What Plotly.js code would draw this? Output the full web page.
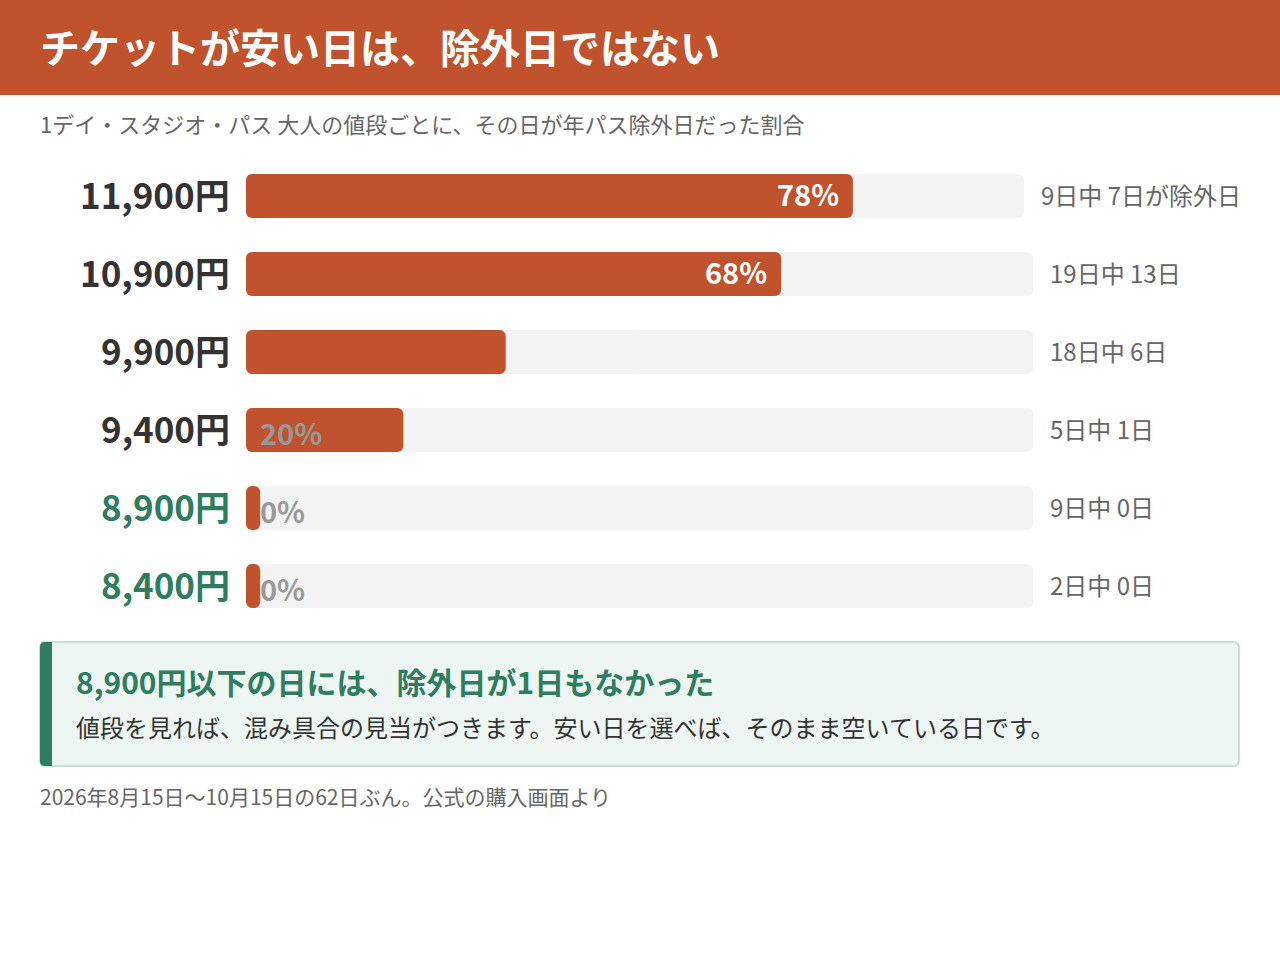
<!DOCTYPE html>
<html>
<head>
<meta charset="utf-8">
<script src="https://cdn.plot.ly/plotly-3.0.1.min.js"></script>
<style>
html,body{margin:0;padding:0;background:#fff;}
#chart{width:1280px;height:960px;}
</style>
</head>
<body>
<div id="chart"></div>
<script>
// ---- data ----
const prices = ['11,900円', '10,900円', '9,900円', '9,400円', '8,900円', '8,400円'];
const sharePct = [78, 68, 33, 20, 0, 0];
const pctLabels = ['78%', '68%', '', '20%', '0%', '0%'];
const dayLabels = ['9日中 7日が除外日', '19日中 13日', '18日中 6日', '5日中 1日', '9日中 0日', '2日中 0日'];
const priceColors = ['#333333', '#333333', '#333333', '#333333', '#2E7D5E', '#2E7D5E'];

// ---- styling ----
const W = 1280, H = 960;
const ORANGE = '#C0532E', TRACK = '#F3F3F3', GREEN = '#2E7D5E';
const FONT = '"Noto Sans CJK JP", "Noto Sans", sans-serif';
const MIN_PCT = 1.8;           // minimal visible width of a fill
const YS = 3;                  // small vertical correction for CJK text boxes
const px = x => x / W;
const py = y => 1 - y / H;

function rrPath(x0, y0, x1, y1, rl, rr) {
  const P = (x, y) => px(x) + ',' + py(y);
  return 'M' + P(x0 + rl, y0) + ' L' + P(x1 - rr, y0) +
    ' Q' + P(x1, y0) + ' ' + P(x1, y0 + rr) +
    ' L' + P(x1, y1 - rr) + ' Q' + P(x1, y1) + ' ' + P(x1 - rr, y1) +
    ' L' + P(x0 + rl, y1) + ' Q' + P(x0, y1) + ' ' + P(x0, y1 - rl) +
    ' L' + P(x0, y0 + rl) + ' Q' + P(x0, y0) + ' ' + P(x0 + rl, y0) + ' Z';
}

// rows: first row uses a slightly shorter track (x2), others use x
const groups = [
  {axis: 'x2', idx: [0]},
  {axis: 'x', idx: [1, 2, 3, 4, 5]}
];
const BW = 44 / 78;
const traces = [];
groups.forEach(g => {
  const ys = g.idx.map(i => prices[i]);
  const common = {type: 'bar', orientation: 'h', xaxis: g.axis, yaxis: 'y', width: BW,
    hoverinfo: 'skip', showlegend: false};
  traces.push(Object.assign({}, common, {y: ys, x: ys.map(() => -50.5), base: ys.map(() => 50.5),
    marker: {color: TRACK, cornerradius: 6, line: {width: 0}}}));
  traces.push(Object.assign({}, common, {y: ys, x: ys.map(() => 50.5), base: ys.map(() => 49.5),
    marker: {color: TRACK, cornerradius: 6, line: {width: 0}}}));
  const v = g.idx.map(i => Math.max(sharePct[i], MIN_PCT));
  traces.push(Object.assign({}, common, {y: ys, x: v.map(a => -a), base: v,
    marker: {color: ORANGE, cornerradius: 6, line: {width: 0}}}));
});

const annotations = [];
function note(o) { annotations.push(Object.assign({showarrow: false, xanchor: 'left', yanchor: 'middle'}, o)); }

note({xref: 'paper', yref: 'paper', x: px(38), y: py(48), yshift: 2,
  text: 'チケットが安い日は、除外日ではない',
  font: {family: FONT, size: 40, color: '#ffffff', weight: 700}});
note({xref: 'paper', yref: 'paper', x: px(38), y: py(126), yshift: YS,
  text: '1デイ・スタジオ・パス 大人の値段ごとに、その日が年パス除外日だった割合',
  font: {family: FONT, size: 22, color: '#666666'}});

prices.forEach((p, i) => {
  const ax = i === 0 ? 'x2' : 'x';
  const trackEnd = i === 0 ? 1024 : 1033;
  note({xref: 'paper', yref: 'y', x: px(232), y: p, xanchor: 'right', yshift: YS,
    text: p, font: {family: FONT, size: 35, color: priceColors[i], weight: 700}});
  note({xref: 'paper', yref: 'y', x: px(trackEnd + 15), y: p, yshift: 2,
    text: dayLabels[i], font: {family: FONT, size: 24, color: '#666666'}});
  if (pctLabels[i]) {
    if (sharePct[i] >= 50) {
      note({xref: ax, yref: 'y', x: sharePct[i], y: p, xanchor: 'right', xshift: -12, yshift: YS,
        text: pctLabels[i], font: {family: FONT, size: 29, color: '#ffffff', weight: 700}});
    } else {
      note({xref: ax, yref: 'y', x: MIN_PCT, y: p, xshift: -2, yshift: -2,
        text: pctLabels[i], font: {family: FONT, size: 29, color: '#999999', weight: 700}});
    }
  }
});

note({xref: 'paper', yref: 'paper', x: px(74), y: py(684), yshift: YS,
  text: '8,900円以下の日には、除外日が1日もなかった',
  font: {family: FONT, size: 30, color: GREEN, weight: 700}});
note({xref: 'paper', yref: 'paper', x: px(74), y: py(729), yshift: YS,
  text: '値段を見れば、混み具合の見当がつきます。安い日を選べば、そのまま空いている日です。',
  font: {family: FONT, size: 24, color: '#333333'}});
note({xref: 'paper', yref: 'paper', x: px(38), y: py(798), yshift: 2,
  text: '2026年8月15日〜10月15日の62日ぶん。公式の購入画面より',
  font: {family: FONT, size: 21, color: '#666666'}});

const shapes = [
  {type: 'rect', xref: 'paper', yref: 'paper', x0: 0, x1: 1, y0: py(95), y1: 1,
    fillcolor: ORANGE, line: {width: 0}, layer: 'below'},
  {type: 'path', xref: 'paper', yref: 'paper', path: rrPath(40, 642, 1239, 766, 6, 6),
    fillcolor: '#EEF6F3', line: {color: '#C6E0D6', width: 2}, layer: 'below'},
  {type: 'path', xref: 'paper', yref: 'paper', path: rrPath(40, 642, 52, 766, 5, 0),
    fillcolor: GREEN, line: {width: 0}, layer: 'below'}
];

const layout = {
  width: W, height: H,
  margin: {l: 0, r: 0, t: 0, b: 0, pad: 0},
  paper_bgcolor: '#ffffff', plot_bgcolor: 'rgba(0,0,0,0)',
  barmode: 'overlay',
  showlegend: false,
  xaxis: {domain: [px(246), px(1033)], range: [0, 100], visible: false, fixedrange: true, anchor: 'y'},
  xaxis2: {domain: [px(246), px(1024)], range: [0, 100], visible: false, fixedrange: true, anchor: 'y'},
  yaxis: {domain: [py(625), py(157)], type: 'category', categoryorder: 'array', categoryarray: prices,
    autorange: 'reversed', visible: false, fixedrange: true},
  annotations: annotations,
  shapes: shapes,
  font: {family: FONT}
};

Plotly.newPlot('chart', traces, layout, {staticPlot: true, displayModeBar: false});
</script>
</body>
</html>
